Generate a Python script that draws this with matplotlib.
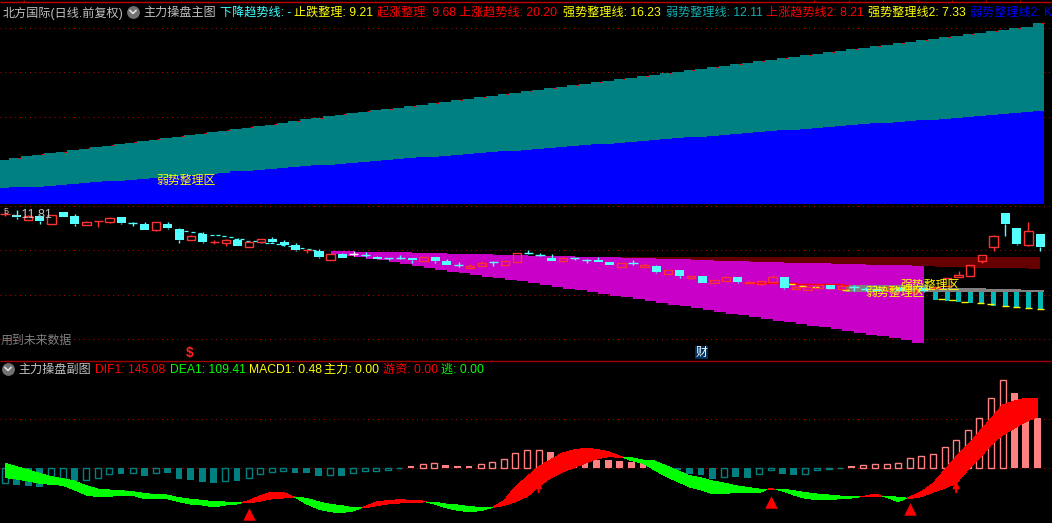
import numpy as np
import matplotlib
matplotlib.use('Agg')
import matplotlib.pyplot as plt

plt.rcParams['font.family'] = ['Liberation Sans', 'Noto Sans CJK SC', 'DejaVu Sans']

W, H = 1052, 523

# top pane, band tops per bar
teal_top = [44, 46, 48, 49.5, 51, 52, 54, 55.5, 57, 58.5, 60, 61.5, 63, 64.5, 66, 67.5, 69, 70.5, 72, 73.5,
            75, 76.5, 78, 79.5, 81, 83, 85, 86, 88, 89.5, 91, 92.5, 94, 95, 96.5, 98, 99.5, 101, 102.5, 104,
            105.5, 107, 108.5, 110, 111.5, 113, 114.5, 116, 117.5, 119, 120.5, 122, 123.5, 125, 126.5, 128, 129.5, 131, 132.5, 134,
            135.5, 137, 138.5, 140, 141.5, 143, 144.5, 146, 147.5, 149, 150.5, 152, 153.5, 155, 156.5, 158, 159.5, 161, 162.5, 164,
            165.5, 167, 168.5, 170, 171.5, 173, 174.5, 176, 177.5, 181]
blue_top = [16, 17, 17, 17, 18, 19, 20, 21, 22, 23, 23.5, 24.5, 25, 26, 27, 28, 29, 29.5, 30.5, 31.5,
            33, 33.5, 34.5, 35.5, 36, 37, 38, 39, 39.5, 40.5, 41.5, 42.5, 43, 44, 45, 46, 47, 47.5, 48.5, 49.5,
            50, 51, 52, 53, 53.5, 54.5, 55.5, 56.5, 57, 58, 59, 60, 60.5, 61.5, 62.5, 63.5, 64, 65, 66, 67,
            67.5, 68.5, 69.5, 70.5, 71, 72, 73, 74, 74.5, 75.5, 76.5, 77.5, 78, 79, 80, 81, 81.5, 82.5, 83.5, 84,
            84.5, 85.5, 86.5, 87.5, 88, 89, 90, 91, 92, 93]

# middle pane candles, bars 0..89
candle_color = ['r', 'c', 'r', 'c', 'r', 'c', 'c', 'r', 'r', 'r',
                'c', 'c', 'c', 'r', 'c', 'c', 'r', 'c', 'r', 'r',
                'c', 'r', 'r', 'c', 'c', 'c', 'r', 'c', 'r', 'c',
                'w', 'c', 'c', 'c', 'c', 'c', 'r', 'c', 'c', 'c',
                'r', 'r', 'c', 'r', 'r', 'c', 'c', 'c', 'r', 'c',
                'c', 'c', 'c', 'r', 'c', 'r', 'c', 'r', 'c', 'r',
                'c', 'r', 'r', 'c', 'r', 'r', 'r', 'c', 'r', 'r',
                'r', 'c', 'r', 'c', 'c', 'c', 'r', 'c', 'r', 'c',
                'r', 'r', 'r', 'r', 'r', 'r', 'c', 'c', 'r', 'c']
body_top = [437, 436, 432, 432, 434, 444, 432, 414, 417, 425,
            428, 410, 408, 413, 408, 393, 372, 378, 354, 360,
            360, 354, 362, 363, 354, 345, 330, 327, 318, 318,
            319, 316, 309, 305, 305, 306, 308, 309, 297, 286,
            282, 291, 293, 296, 320, 320, 314, 306, 305, 305,
            299, 300, 294, 290, 291, 285, 282, 269, 270, 252,
            252, 239, 249, 249, 234, 237, 249, 249, 220, 220,
            224, 225, 222, 218, 213, 214, 218, 216, 222, 216,
            220, 245, 255, 284, 314, 371, 440, 396, 386, 378]
body_bot = [437, 428, 421, 418, 409, 430, 409, 406, 417, 415,
            412, 410, 390, 391, 397, 360, 361, 355, 354, 352,
            343, 340, 355, 354, 346, 330, 330, 309, 301, 306,
            319, 316, 303, 305, 305, 300, 298, 297, 285, 286,
            277, 283, 293, 286, 295, 320, 314, 297, 298, 305,
            299, 294, 285, 280, 291, 280, 264, 259, 252, 247,
            231, 232, 238, 234, 230, 229, 235, 216, 213, 211,
            217, 213, 212, 218, 213, 208, 209, 208, 204, 206,
            216, 222, 250, 253, 298, 340, 409, 349, 346, 340]
wick_hi = [450, 450, 435, 435, 434, 444, 438, 416, 418, 428,
           428, 414, 413, 413, 414, 396, 375, 384, 360, 362,
           365, 358, 364, 369, 360, 350, 332, 332, 320, 322,
           326, 324, 312, 305, 315, 306, 308, 309, 303, 294,
           288, 296, 298, 300, 320, 330, 321, 318, 308, 305,
           303, 308, 294, 290, 299, 290, 285, 269, 270, 252,
           252, 239, 252, 249, 237, 237, 255, 249, 222, 222,
           226, 225, 227, 225, 220, 216, 220, 218, 224, 218,
           222, 245, 267, 284, 314, 375, 440, 396, 413, 378]
wick_lo = [432, 424, 420, 408, 409, 430, 402, 404, 400, 412,
           408, 402, 390, 388, 393, 351, 360, 351, 348, 342,
           342, 339, 350, 352, 343, 328, 322, 305, 300, 306,
           311, 310, 303, 299, 303, 292, 298, 292, 285, 280,
           277, 283, 283, 286, 295, 319, 313, 297, 297, 300,
           292, 294, 285, 280, 285, 280, 261, 259, 246, 244,
           231, 232, 238, 232, 230, 225, 235, 213, 213, 211,
           217, 213, 212, 207, 208, 206, 207, 206, 202, 204,
           214, 222, 250, 253, 292, 328, 373, 345, 343, 328]

# purple wedge and the bands under it
wedge_bars = list(range(28, 80))
wedge_top = [328, 327, 327, 324, 324, 324, 324, 324, 321, 321,
             321, 319, 319, 319, 319, 315, 315, 315, 313, 313,
             313, 313, 309, 309, 309, 309, 306, 306, 306, 303,
             303, 303, 300, 300, 298, 298, 298, 295, 295, 295,
             291, 291, 291, 291, 288, 288, 288, 285, 285, 285,
             285, 283]
wedge_low = [326, 318, 312, 309, 304, 299, 293, 288, 282, 276,
             270, 265, 260, 255, 250, 246, 241, 236, 230, 225,
             219, 214, 209, 204, 199, 193, 188, 182, 176, 171,
             166, 161, 155, 150, 144, 139, 134, 129, 124, 118,
             113, 108, 103, 98, 92, 87, 82, 76, 71, 65,
             60, 51]
dark_bars = list(range(52, 90))
dark_top = [309] * 38
dark_low = [275] * 27 + [282, 282, 279, 279, 279, 276, 276, 276, 276, 276, 273]
gray_bars = list(range(73, 90))
gray_top = [225, 225, 225, 225, 225, 225, 225, 217, 217, 217, 217, 217, 213, 213, 213, 210, 210]
gray_low = [205] * 17
stick_bars = list(range(80, 90))
stick_low = [180, 177, 174, 171, 168, 162, 159, 156, 153, 150]
dash_x = [67.6, 68.6, 69.7, 71.0, 72.3, 80.5, 81.5, 82.5, 83.9, 84.7, 86.0, 87.0, 88.0, 89.0]
dash_v = [227, 221, 218, 215, 210, 182, 180, 175, 170, 167, 161, 158, 155, 152]
line2_x = [63.5, 64.5, 65.5, 66.5, 67.5, 68.5, 69.5, 70.5, 71.5, 72.5]
line2_v = [232, 232, 231, 230, 230, 229, 228, 227, 227, 226]
trend_x = [15.6, 16.2, 16.8, 17.8, 18.3, 18.8, 19.4, 19.9, 20.4, 20.9, 21.5, 22.1, 22.5, 23.0, 23.5, 23.9, 24.5, 25.5, 26.1, 26.6]
trend_v = [388, 383, 380, 375, 374, 371, 368, 364, 362, 358, 356, 354, 350, 350, 347, 345, 341, 335, 332, 330]

# lower pane
hist_kind = list('HSSSHHSHHHSHSHSSSSSHSHHHHSSSHSHHHHHSHHSSSHHHHHH' + 'S' * 15 + 'HSSHHSSHHHHS' + 'H' * 13 + 'SSS')
hist = [-47, -52, -55, -58, -34, -34, -40, -37, -30, -18,
        -19, -15, -25, -15, -16, -34, -37, -43, -46, -40,
        -40, -30, -18, -12, -9, -16, -16, -25, -22, -25,
        -15, -9, -9, -6, -1, 5, 10, 13, 7, 4,
        4, 10, 16, 25, 43, 53, 53, 46, 40, 30,
        25, 23, 23, 20, 18, 16, 8, -3, -7, -20,
        -22, -34, -27, -27, -30, -20, -8, -18, -21, -18,
        -8, -5, -1, 4, 7, 10, 10, 13, 28, 34,
        40, 61, 82, 112, 148, 208, 262, 224, 168, 149]
band_upper = [13, 3, -7, -17, -27, -33, -40, -54, -64, -67,
              -69, -72, -77, -81, -82, -90, -95, -98, -102, -103,
              -104, -99, -84, -73, -74, -88, -92, -102, -110, -114,
              -120, -117, -103, -99, -96, -98, -100, -103, -109, -112,
              -117, -119, -119, -99, -57, -27, 3, 23, 43, 53,
              58, 55, 48, 35, 30, 23, 20, 6, -9, -24,
              -30, -40, -46, -54, -59, -64, -62, -64, -69, -75,
              -79, -82, -85, -86, -86, -79, -85, -89, -88, -72,
              -47, -7, 33, 68, 108, 148, 188, 200, 208, 209]
band_lower = [-30, -34, -40, -47, -50, -53, -67, -82, -87, -86,
              -82, -83, -93, -93, -93, -102, -109, -112, -118, -112,
              -109, -106, -100, -93, -91, -89, -109, -124, -132, -135,
              -130, -121, -114, -109, -106, -106, -103, -109, -120, -128,
              -132, -129, -120, -114, -102, -87, -57, -32, -14, 0,
              13, 26, 33, 31, 21, 13, -7, -27, -42, -58,
              -67, -78, -78, -74, -75, -75, -67, -70, -82, -92,
              -96, -96, -93, -91, -88, -87, -89, -102, -92, -87,
              -74, -62, -47, -7, 28, 68, 98, 118, 138, 152]
red_bars = list(range(21, 25)) + list(range(31, 37)) + list(range(43, 54)) + [66, 74, 75] + list(range(78, 90))
tri_bars = [21, 66, 78]
tri_v = [-140, -102, -125]
arrow_bars = [46, 82]

top_labels = [(3, '北方国际(日线.前复权)', '#c0c0c0'), (143, '主力操盘主图', '#c0c0c0'),
              (220, '下降趋势线: -', '#40ffff'), (294, '止跌整理: 9.21', '#ffff00'),
              (377, '起涨整理: 9.68', '#ff0000'), (459, '上涨趋势线: 20.20', '#ff0000'),
              (563, '强势整理线: 16.23', '#ffff00'), (666, '弱势整理线: 12.11', '#10b0b0'),
              (766, '上涨趋势线2: 8.21', '#ff0000'), (868, '强势整理线2: 7.33', '#ffff00'),
              (970, '弱势整理线2: K', '#0000ff')]
low_labels = [(18, '主力操盘副图', '#c0c0c0'), (95, 'DIF1: 145.08', '#ff0000'),
              (170, 'DEA1: 109.41', '#00ff00'), (249, 'MACD1: 0.48', '#ffff00'),
              (324, '主力: 0.00', '#ffff00'), (383, '游资: 0.00', '#ff0000'), (441, '逃: 0.00', '#00ff00')]

fig = plt.figure(figsize=(W / 100, H / 100), dpi=100, facecolor='black')


def pane(y0, y1, vtop, vbot, step):
    ax = fig.add_axes([0, 1 - y1 / H, 1, (y1 - y0) / H], facecolor='black')
    ax.set_xlim(-5 / step, (W - 5) / step)
    ax.set_ylim(vbot, vtop)
    ax.axis('off')
    return ax


def grid(ax, levels):
    for v in levels:
        ax.axhline(v, color='#c00000', lw=0.72, ls=(0, (1, 3.9)), zorder=1)


lw1 = 0.75
all_bars = np.arange(90)

# top pane
ax1 = pane(0, 204, 204, 0, 11.63)
grid(ax1, [176.5, 131.7, 87.5])
ax1.bar(all_bars - 0.65, teal_top, width=1, align='edge', color='#008080', antialiased=False, zorder=2)
ax1.bar(all_bars - 0.65, blue_top, width=1, align='edge', color='#0000ff', antialiased=False, zorder=3)
teal_arr = np.array(teal_top)
ax1.hlines(teal_arr[1::2] + 0.5, all_bars[1::2] + 0.1, all_bars[1::2] + 0.35, color='#ff0000', lw=lw1, zorder=3)

# middle pane
ax2 = pane(204, 360, 468, 0, 11.63)
grid(ax2, [462, 329, 194, 62])
ax2.bar(np.array(dark_bars) - 1, np.array(dark_top) - np.array(dark_low), bottom=dark_low, width=1, align='edge',
        color='#660000', antialiased=False, zorder=2)
ax2.bar(np.array(wedge_bars) - 1, np.array(wedge_top) - np.array(wedge_low), bottom=wedge_low, width=1, align='edge',
        color='#c800c8', antialiased=False, zorder=3)
ax2.bar(np.array(gray_bars) - 0.65, np.array(gray_top) - np.array(gray_low), bottom=gray_low, width=1, align='edge',
        color='#808080', antialiased=False, zorder=4)
ax2.bar(stick_bars, 205 - np.array(stick_low), bottom=stick_low, width=0.43, color='#00b8b8', antialiased=False, zorder=4)
ax2.step(line2_x, line2_v, where='mid', color='#ff0000', lw=1, zorder=5)
ax2.plot(trend_x, trend_v, ls='none', marker='_', ms=3.5, mew=0.9, color='#40ffff', zorder=5)
ax2.hlines(dash_v, np.array(dash_x) - 0.3, np.array(dash_x) + 0.3, color='#ffff00', lw=1, zorder=5)

colors = {'r': '#ff3232', 'c': '#54ffff', 'w': '#ffffff'}
for i in range(90):
    c = colors[candle_color[i]]
    top, bot = body_top[i], body_bot[i]
    ax2.vlines(i, top, wick_hi[i], color=c, lw=1, zorder=6)
    ax2.vlines(i, wick_lo[i], bot, color=c, lw=1, zorder=6)
    if top == bot:
        ax2.hlines(top, i - 0.39, i + 0.39, color=c, lw=1, zorder=6)
    elif candle_color[i] == 'r':
        ax2.bar(i, top - bot, bottom=bot, width=0.72, fill=False, edgecolor=c, lw=1, zorder=6)
    else:
        ax2.bar(i, top - bot, bottom=bot, width=0.78, color=c, antialiased=False, zorder=6)

# lower pane
ax3 = pane(361, 523, 320, -166, 11.6)
grid(ax3, [145, 0])
for i in range(90):
    c = '#ff8080' if hist[i] > 0 else '#008080'
    if hist_kind[i] == 'S':
        ax3.bar(i, hist[i], width=0.58, color=c, antialiased=False, zorder=2)
    else:
        ax3.bar(i, hist[i], width=0.52, fill=False, edgecolor=c, lw=1, zorder=2)

is_red = np.isin(all_bars, red_bars)
dif = np.where(is_red, band_upper, band_lower)
dea = np.where(is_red, band_lower, band_upper)
ax3.fill_between(all_bars, dif, dea, where=dif >= dea, interpolate=True, color='#ff0000', lw=0, antialiased=False, zorder=3)
ax3.fill_between(all_bars, dif, dea, where=dif <= dea, interpolate=True, color='#00ff00', lw=0, antialiased=False, zorder=3)
ax3.scatter(tri_bars, tri_v, marker='^', s=80, color='#ff0000', linewidths=0, zorder=4)
for i in arrow_bars:
    ax3.annotate('', xy=(i, -40), xytext=(i, -74), zorder=5,
                 arrowprops=dict(arrowstyle='-|>', color='#ff0000', lw=1.5, mutation_scale=9, shrinkA=0, shrinkB=0))


def ftext(x, y, s, color, size=8.7, **kw):
    fig.text(x / W, 1 - (y + 1) / H, s, color=color, fontsize=size, va='center', ha='left', zorder=10, **kw)


for x, s, c in top_labels:
    ftext(x, 12, s, c)
for x, s, c in low_labels:
    ftext(x, 369, s, c)

ftext(156, 180, '弱势整理区', '#ffff00', 8.6)
ftext(900, 285, '强势整理区', '#ffff00', 8.6)
ftext(865, 292, '弱势整理区', '#ffff00', 8.6)
ftext(1, 340, '用到未来数据', '#808080', 8.6)
ftext(4, 211, '5', '#c0c0c0', 6.5)
ftext(10, 214, '←11.81', '#c0c0c0', 9)
ftext(186, 352, '$', '#ff2020', 10, fontweight='bold')
fig.text(701.5 / W, 1 - 352.5 / H, '财', color='white', fontsize=8.6, va='center', ha='center',
         bbox=dict(boxstyle='square,pad=0.06', fc='#003060', ec='none'))

# frame lines and the two round menu buttons
frame = fig.add_axes([0, 0, 1, 1], facecolor='none')
frame.set_xlim(0, W)
frame.set_ylim(H, 0)
frame.axis('off')
frame.hlines(2.2, 0, W, color='#c00000', lw=1)
frame.hlines(360.5, 0, W, color='#a00000', lw=1)
frame.vlines([24, 814, 849, 883, 918, 952, 986, 1020], 0, 2, color='#c00000', lw=0.8)
for cx, cy in [(133, 12), (8, 369)]:
    frame.scatter([cx], [cy], s=85, color='#707070', linewidths=0, zorder=8)
    frame.plot([cx - 3, cx, cx + 3], [cy - 1.5, cy + 1.5, cy - 1.5], color='#e0e0e0', lw=1.2, zorder=9)

fig.savefig('out.png', dpi=100, facecolor='black')
